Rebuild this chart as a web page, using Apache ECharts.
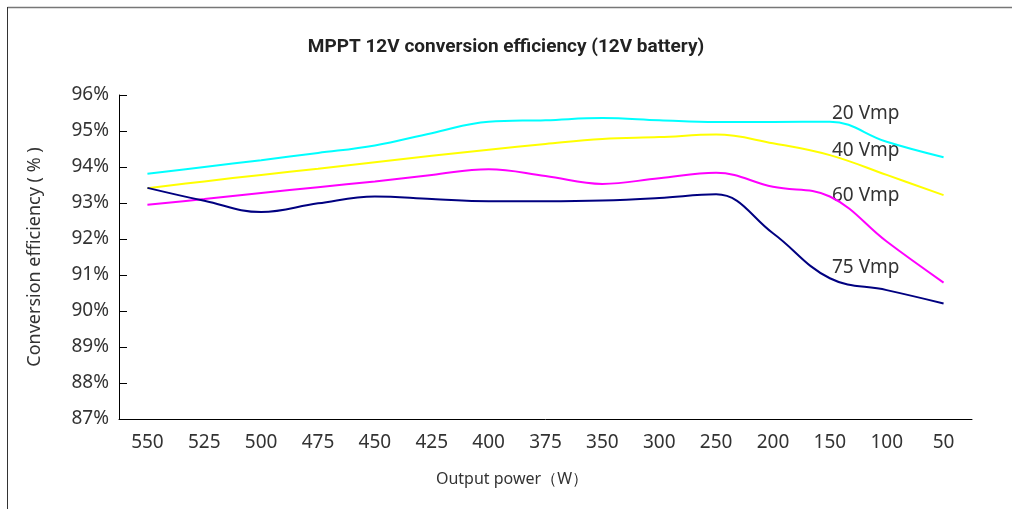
<!DOCTYPE html>
<html>
<head>
<meta charset="utf-8">
<script src="https://cdn.jsdelivr.net/npm/echarts@6/dist/echarts.min.js"></script>
<style>html,body{margin:0;padding:0;background:#fff;}#c{width:1012px;height:509px;}</style>
</head>
<body>
<div id="c"></div>
<script>
var categories = ['550','525','500','475','450','425','400','375','350','300','250','200','150','100','50'];
var vmp20 = [93.81, 94.00, 94.19, 94.39, 94.60, 94.94, 95.26, 95.30, 95.36, 95.30, 95.25, 95.25, 95.26, 94.70, 94.27];
var vmp40 = [93.41, 93.60, 93.78, 93.95, 94.13, 94.31, 94.48, 94.64, 94.78, 94.83, 94.90, 94.66, 94.33, 93.78, 93.22];
var vmp60 = [92.95, 93.11, 93.28, 93.44, 93.60, 93.78, 93.94, 93.75, 93.53, 93.69, 93.84, 93.45, 93.18, 91.93, 90.79];
var vmp75 = [93.42, 93.06, 92.75, 92.99, 93.18, 93.11, 93.05, 93.05, 93.07, 93.14, 93.24, 92.16, 90.91, 90.58, 90.21];
var seriesNames = ['20 Vmp', '40 Vmp', '60 Vmp', '75 Vmp'];
var yTicks = {min: 87, max: 96, step: 1};

var chart = echarts.init(document.getElementById('c'), null, {renderer: 'canvas'});
var font = 'Noto Sans';
function mk(name, data, color) {
  return {
    name: name, type: 'line', data: data, smooth: 0.4, symbol: 'none',
    lineStyle: {color: color, width: 2}, itemStyle: {color: color}
  };
}
var labelStyle = {fontFamily: font, fontSize: 19, fill: '#333'};
chart.setOption({
  animation: false,
  backgroundColor: '#fff',
  title: {
    text: 'MPPT 12V conversion efficiency (12V battery)',
    left: 'center', top: 33,
    textStyle: {fontFamily: 'Roboto', fontWeight: 'bold', fontSize: 19, color: '#222'}
  },
  grid: {left: 119, right: 40, top: 95, bottom: 90, containLabel: false},
  xAxis: {
    type: 'category', data: categories, boundaryGap: true,
    name: 'Output power（W）', nameLocation: 'middle', nameGap: 52,
    nameTextStyle: {fontFamily: font, fontSize: 16, color: '#333', padding: [0, 67, 0, 0]},
    axisLine: {lineStyle: {color: '#000', width: 1}},
    axisTick: {inside: true, length: 8, lineStyle: {color: '#000'}},
    axisLabel: {fontFamily: font, fontSize: 19, color: '#333', margin: 14},
    splitLine: {show: false}
  },
  yAxis: {
    type: 'value', min: yTicks.min, max: yTicks.max, interval: yTicks.step,
    name: 'Conversion efficiency ( % )', nameLocation: 'middle', nameGap: 75, nameRotate: 90,
    nameTextStyle: {fontFamily: font, fontSize: 18, color: '#333'},
    axisLine: {show: true, lineStyle: {color: '#000', width: 1}},
    axisTick: {show: true, inside: true, length: 8, lineStyle: {color: '#000'}},
    axisLabel: {fontFamily: font, fontSize: 19, color: '#333', margin: 10, formatter: '{value}%'},
    splitLine: {show: false}
  },
  series: [
    mk(seriesNames[0], vmp20, '#00FFFF'),
    mk(seriesNames[1], vmp40, '#FFFF00'),
    mk(seriesNames[2], vmp60, '#FF00FF'),
    mk(seriesNames[3], vmp75, '#000080')
  ],
  graphic: [
    {type: 'line', shape: {x1: 7.5, y1: 7.5, x2: 1012, y2: 7.5}, style: {stroke: '#777', lineWidth: 1.5}, silent: true},
    {type: 'line', shape: {x1: 7.5, y1: 7, x2: 7.5, y2: 509}, style: {stroke: '#333', lineWidth: 1}, silent: true},
    {type: 'text', left: 832, top: 104, style: Object.assign({text: seriesNames[0]}, labelStyle)},
    {type: 'text', left: 832, top: 141, style: Object.assign({text: seriesNames[1]}, labelStyle)},
    {type: 'text', left: 832, top: 186, style: Object.assign({text: seriesNames[2]}, labelStyle)},
    {type: 'text', left: 832, top: 258, style: Object.assign({text: seriesNames[3]}, labelStyle)}
  ]
});
</script>
</body>
</html>
